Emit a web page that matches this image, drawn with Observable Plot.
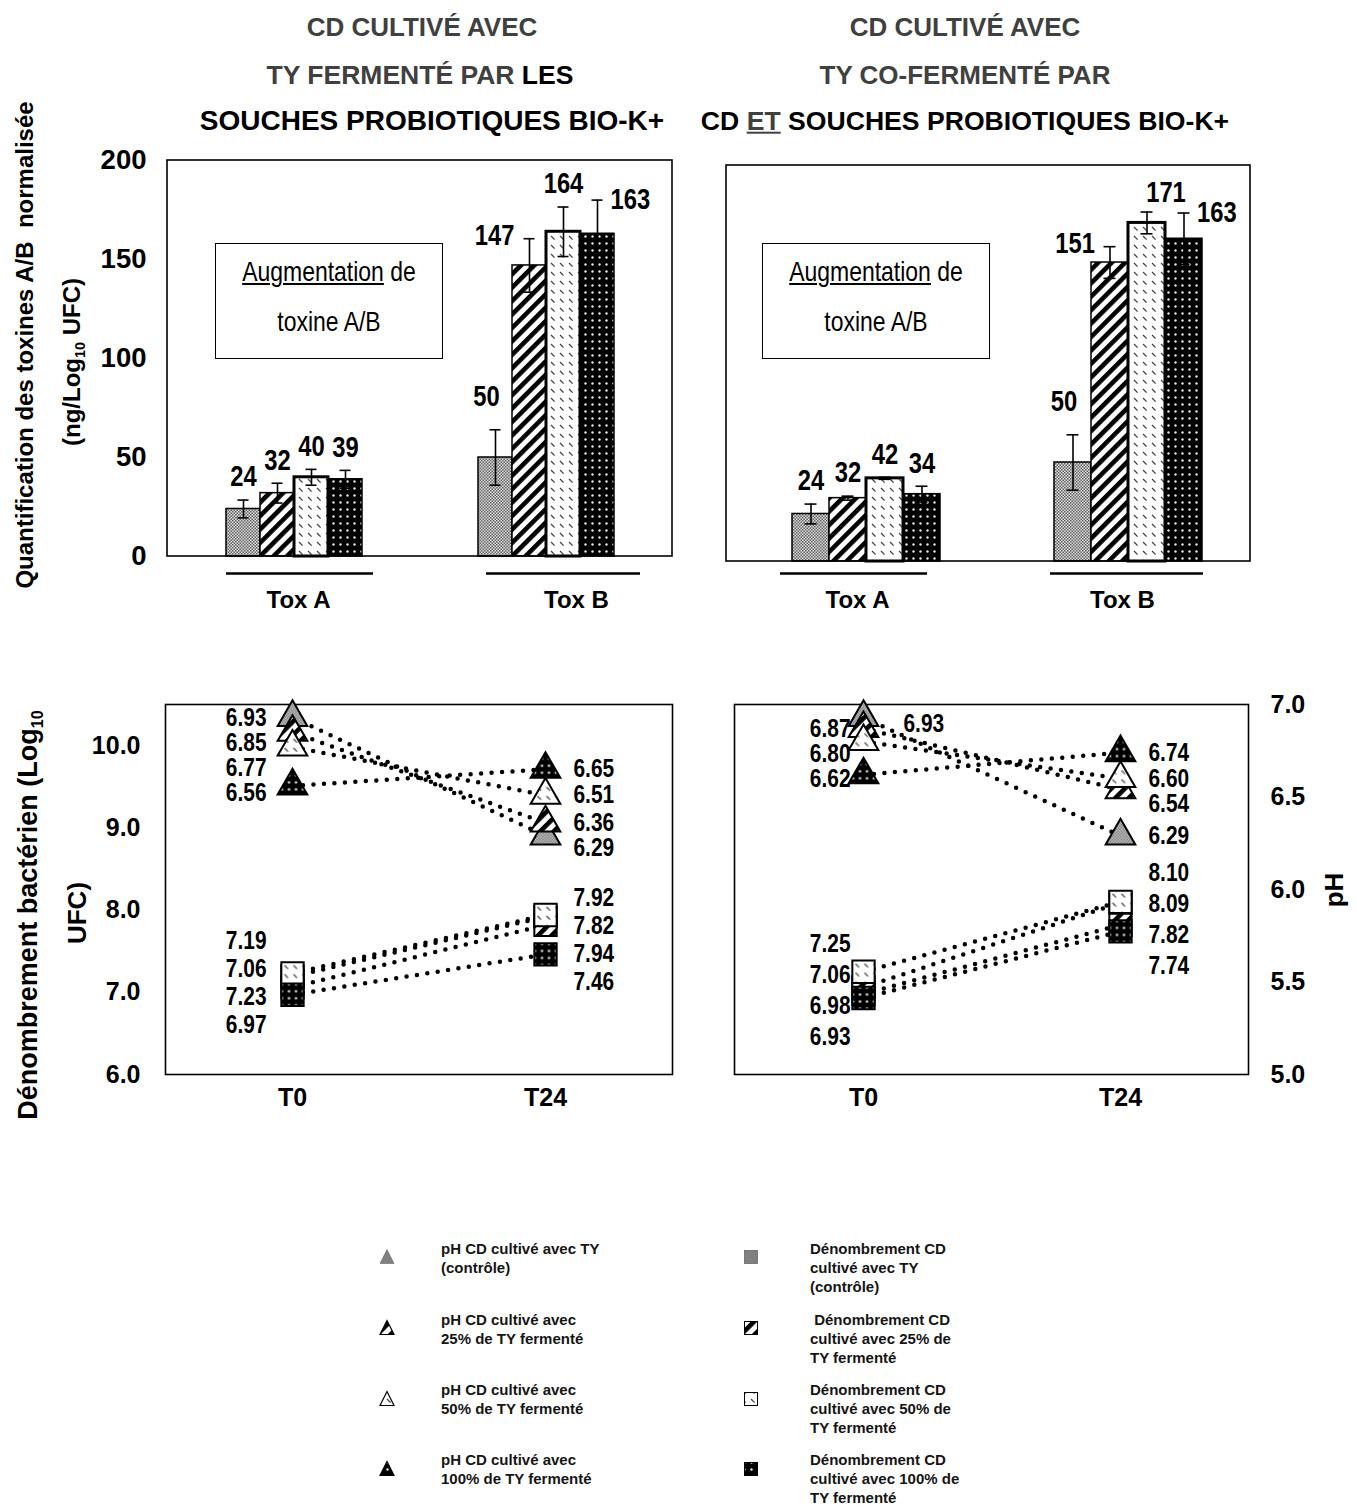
<!DOCTYPE html>
<html lang="fr">
<head>
<meta charset="utf-8">
<script src="https://cdn.jsdelivr.net/npm/d3@7"></script>
<script src="https://cdn.jsdelivr.net/npm/@observablehq/plot@0.6"></script>
<style>
html,body{margin:0;padding:0;background:#fff;}
#root{position:relative;width:1357px;height:1507px;overflow:hidden;font-family:"Liberation Sans",Arial,Helvetica,sans-serif;color:#000;}
.t{position:absolute;white-space:nowrap;line-height:1;}
</style>
</head>
<body>
<div id="root"></div>
<script>
// ================= DATA =================
const treatments = ["TY (contrôle)", "25% de TY fermenté", "50% de TY fermenté", "100% de TY fermenté"];
const toxGroups = ["Tox A", "Tox B"];
const times = ["T0", "T24"];

// Top-left: CD cultivé avec TY fermenté par les souches probiotiques Bio-K+
const leftToxA = [24, 32, 40, 39];
const leftToxAErr = [4.5, 5, 4, 4.5];
const leftToxB = [50, 147, 164, 163];
const leftToxBErr = [14, 13.5, 12.5, 17];
// Top-right: CD cultivé avec TY co-fermenté par CD et souches Bio-K+
const rightToxA = [24, 32, 42, 34];
const rightToxAErr = [5, 1, 0.5, 4];
const rightToxB = [50, 151, 171, 163];
const rightToxBErr = [14, 8, 5.5, 13];

// Bottom: pH (triangles) and counts Log10 UFC (squares)
const leftPhT0 = [6.93, 6.85, 6.77, 6.56];
const leftPhT24 = [6.29, 6.36, 6.51, 6.65];
const leftCfuT0 = [7.19, 7.06, 7.23, 6.97];
const leftCfuT24 = [7.92, 7.82, 7.94, 7.46];
const rightPhT0 = [6.93, 6.87, 6.80, 6.62];
const rightPhT24 = [6.29, 6.54, 6.60, 6.74];
const rightCfuT0 = [7.06, 6.98, 7.25, 6.93];
const rightCfuT24 = [8.09, 7.82, 8.10, 7.74];

const toxTicks = [0, 50, 100, 150, 200];
const cfuTicks = [6, 7, 8, 9, 10];
const phTicks = [5, 5.5, 6, 6.5, 7];

// label placement (annotation layout)
const leftPlaceA = ["top", "top", "top", "top"];
const leftPlaceB = ["topleft", "left", "top", "right"];
const rightPlaceA = ["top", "top", "top", "top"];
const rightPlaceB = ["topleft", "left", "topright", "right"];
const leftCfuLabelOrder = [0, 1, 2, 3];
const rightCfuLabelOrder = [2, 0, 1, 3];
const leftPhT0Side = ["left", "left", "left", "left"];
const rightPhT0Side = ["right", "left", "left", "left"];

// ================= STYLE =================
const FILL = ["url(#pCtrl)", "url(#p25)", "url(#p50)", "url(#p100)"];
const SANS = "'Liberation Sans', Arial, Helvetica, sans-serif";
const hasNarrow = (() => {
  const c = document.createElement("canvas").getContext("2d");
  c.font = "bold 40px 'Liberation Sans Narrow', monospace";
  const a = c.measureText("Augmentation 147").width;
  c.font = "bold 40px monospace";
  const b = c.measureText("Augmentation 147").width;
  return Math.abs(a - b) > 0.5;
})();
const NARROW = hasNarrow ? "'Liberation Sans Narrow', 'Arial Narrow', sans-serif" : SANS;
const SQUEEZE = hasNarrow ? 1 : 0.82;

const root = document.getElementById("root");
root.insertAdjacentHTML("beforeend", `
<svg width="0" height="0" style="position:absolute;left:0;top:0">
<defs>
<pattern id="pCtrl" patternUnits="userSpaceOnUse" width="3" height="3">
  <rect width="3" height="3" fill="#e0e0e0"/>
  <rect width="1.5" height="1.5" fill="#5e5e5e"/>
  <rect x="1.5" y="1.5" width="1.5" height="1.5" fill="#5e5e5e"/>
</pattern>
<pattern id="p25" patternUnits="userSpaceOnUse" width="9.5" height="9.5" patternTransform="rotate(45)">
  <rect width="9.5" height="9.5" fill="#fff"/>
  <rect width="4.6" height="9.5" fill="#000"/>
</pattern>
<pattern id="p50" patternUnits="userSpaceOnUse" width="9" height="9">
  <rect width="9" height="9" fill="#fff"/>
  <path d="M1,1L4.6,4.6" stroke="#444" stroke-width="1.3"/>
</pattern>
<pattern id="p100" patternUnits="userSpaceOnUse" width="7" height="7">
  <rect width="7" height="7" fill="#000"/>
  <circle cx="3.5" cy="3.5" r="1.2" fill="#e8e8e8"/>
</pattern>
</defs>
</svg>`);

function place(svg, box) {
  svg.style.position = "absolute";
  svg.style.left = box.x + "px";
  svg.style.top = box.y + "px";
  root.appendChild(svg);
}
function margins(frame, box) {
  return {
    marginLeft: frame.x0 - box.x,
    marginTop: frame.y0 - box.y,
    marginRight: box.x + box.w - frame.x1,
    marginBottom: box.y + box.h - frame.y1
  };
}
// condense data labels when no narrow face is installed
function squeeze(svg) {
  if (SQUEEZE === 1) return;
  svg.querySelectorAll('g[aria-label="text"] text').forEach(t => {
    if (t.textContent.startsWith("Tox")) return;
    t.setAttribute("transform", (t.getAttribute("transform") || "") + ` scale(${SQUEEZE},1)`);
  });
}
function addFrame(svg, frame, box) {
  const r = document.createElementNS("http://www.w3.org/2000/svg", "rect");
  r.setAttribute("x", frame.x0 - box.x);
  r.setAttribute("y", frame.y0 - box.y);
  r.setAttribute("width", frame.x1 - frame.x0);
  r.setAttribute("height", frame.y1 - frame.y0);
  r.setAttribute("fill", "none");
  r.setAttribute("stroke", "#000");
  r.setAttribute("stroke-width", 1.6);
  svg.appendChild(r);
}
const baseStyle = (size) => ({
  background: "transparent", overflow: "visible", fontFamily: SANS,
  fontSize: size + "px", fontWeight: "bold", color: "#000"
});

// ================= TOP CHARTS (bars) =================
const placeStyles = {
  top: {dx: 0, dy: -23, anchor: "middle"},
  topleft: {dx: -9, dy: -33, anchor: "middle"},
  topright: {dx: 19, dy: -19, anchor: "middle"},
  left: {dx: -15, dy: -3, anchor: "end"},
  right: {dx: 13, dy: 0, anchor: "start"}
};

function toxChart(o) {
  const rows = [];
  toxGroups.forEach((g, gi) => {
    const vals = gi ? o.B : o.A, errs = gi ? o.BErr : o.AErr, pl = gi ? o.placeB : o.placeA;
    treatments.forEach((t, i) => rows.push({group: g, treatment: t, ti: i, value: vals[i], err: errs[i], place: pl[i]}));
  });
  const marks = [
    Plot.barY(rows, {fx: "group", x: "treatment", y: "value", fill: d => FILL[d.ti],
      stroke: "#000", strokeWidth: d => d.ti === 2 ? 3 : 1.5}),
    Plot.ruleX(rows, {fx: "group", x: "treatment", y1: d => d.value - d.err, y2: d => d.value + d.err,
      stroke: "#000", strokeWidth: 1.6}),
    Plot.tickY(rows, {fx: "group", x: "treatment", y: d => d.value + d.err, stroke: "#000", strokeWidth: 1.6,
      insetLeft: o.capInset, insetRight: o.capInset}),
    Plot.tickY(rows, {fx: "group", x: "treatment", y: d => d.value - d.err, stroke: "#000", strokeWidth: 1.6,
      insetLeft: o.capInset, insetRight: o.capInset})
  ];
  for (const [key, p] of Object.entries(placeStyles)) {
    marks.push(Plot.text(rows.filter(d => d.place === key), {
      fx: "group", x: "treatment", y: d => d.value + d.err, text: d => String(d.value),
      textAnchor: p.anchor, lineAnchor: "middle", dx: p.dx, dy: p.dy,
      fontSize: 29, fontFamily: NARROW, fontWeight: "bold", fill: "#000"
    }));
  }
  toxGroups.forEach((g, gi) => {
    marks.push(Plot.ruleY([{group: g, y: 0}], {fx: "group", y: "y", dy: o.underlineDy,
      insetLeft: o.underline[gi][0], insetRight: o.underline[gi][1], stroke: "#000", strokeWidth: 2.5}));
    marks.push(Plot.text([{group: g}], {fx: "group", text: "group", frameAnchor: "bottom", lineAnchor: "middle",
      dy: o.groupDy, dx: o.groupDx[gi], fontSize: 24, fontWeight: "bold", fontFamily: SANS, fill: "#000"}));
  });
  const svg = Plot.plot({
    width: o.box.w, height: o.box.h, ...margins(o.frame, o.box),
    fx: {domain: toxGroups, padding: 0, axis: null, label: null},
    x: {domain: treatments, paddingInner: 0, paddingOuter: o.padOuter, align: o.align, axis: null, label: null},
    y: o.yAxis ? {domain: [0, 200], ticks: toxTicks, tickSize: 0, tickPadding: 22, label: null}
               : {domain: [0, 200], axis: null},
    color: {type: "identity"},
    style: baseStyle(27.5),
    marks
  });
  squeeze(svg);
  addFrame(svg, o.frame, o.box);
  place(svg, o.box);
}

toxChart({
  A: leftToxA, AErr: leftToxAErr, B: leftToxB, BErr: leftToxBErr, placeA: leftPlaceA, placeB: leftPlaceB,
  frame: {x0: 167, y0: 160, x1: 672, y1: 556}, box: {x: 0, y: 100, w: 700, h: 560},
  yAxis: true, padOuter: 1.61, align: 0.5, capInset: 11.5,
  underline: [[58, 47], [66, 32]], underlineDy: 17, groupDx: [4, 30], groupDy: 44
});
toxChart({
  A: rightToxA, AErr: rightToxAErr, B: rightToxB, BErr: rightToxBErr, placeA: rightPlaceA, placeB: rightPlaceB,
  frame: {x0: 726, y0: 165, x1: 1250, y1: 561}, box: {x: 700, y: 100, w: 657, h: 560},
  yAxis: false, padOuter: 1.52, align: 0.58, capInset: 12.5,
  underline: [[54, 61], [62, 47]], underlineDy: 12, groupDx: [0, 3], groupDy: 39
});

// ================= BOTTOM CHARTS (pH + counts) =================
const phToCfu = d3.scaleLinear([5, 7], [6, 10.5]);

function growthChart(o) {
  const pxPerUnit = (o.frame.y1 - o.frame.y0) / 4.5;
  const pts = [];
  treatments.forEach((t, i) => {
    pts.push({kind: "ph", ti: i, time: "T0", v: o.phT0[i], y: phToCfu(o.phT0[i])});
    pts.push({kind: "ph", ti: i, time: "T24", v: o.phT24[i], y: phToCfu(o.phT24[i])});
  });
  treatments.forEach((t, i) => {
    pts.push({kind: "cfu", ti: i, time: "T0", v: o.cfuT0[i], y: o.cfuT0[i]});
    pts.push({kind: "cfu", ti: i, time: "T24", v: o.cfuT24[i], y: o.cfuT24[i]});
  });
  const ph = pts.filter(d => d.kind === "ph"), cfu = pts.filter(d => d.kind === "cfu");

  // value labels
  const labels = [];
  const gap = 25 / pxPerUnit;
  function dodge(items) {
    items.sort((a, b) => b.y - a.y);
    items.forEach((d, k) => { d.ly = d.y; if (k && items[k - 1].ly - d.ly < gap) d.ly = items[k - 1].ly - gap; });
    return items;
  }
  for (const time of times) {
    const phPts = ph.filter(d => d.time === time);
    const side = time === "T0" ? (i => o.phT0Side[i]) : (() => "right");
    const defaultSide = time === "T0" ? "left" : "right";
    dodge(phPts.filter(d => side(d.ti) === defaultSide).map(d => ({...d}))).forEach(d =>
      labels.push({time, ly: d.ly, text: d.v.toFixed(2), kind: defaultSide}));
    if (time === "T0") phPts.filter(d => side(d.ti) !== "left").forEach(d =>
      labels.push({time, ly: d.y, text: d.v.toFixed(2), kind: "farRight"}));
    const cPts = cfu.filter(d => d.time === time);
    const mean = d3.mean(cPts, d => d.y) - (o.cfuShift[time] || 0) / pxPerUnit;
    const sp = o.cfuSpacing / pxPerUnit;
    o.cfuOrder.forEach((ti, k) => {
      const d = cPts.find(p => p.ti === ti);
      labels.push({time, ly: mean + (1.5 - k) * sp, text: d.v.toFixed(2), kind: time === "T0" ? "left" : "right"});
    });
  }
  const textOpts = {x: "time", y: "ly", text: "text", lineAnchor: "middle", fontSize: 25.5,
    fontFamily: NARROW, fontWeight: "bold", fill: "#000"};

  const yOpts = o.axis === "left"
    ? {domain: [6, 10.5], ticks: cfuTicks, tickFormat: d3.format(".1f"), tickSize: 0, tickPadding: 25, label: null}
    : {domain: [6, 10.5], axis: "right", ticks: phTicks.map(phToCfu), tickFormat: d => phToCfu.invert(d).toFixed(1),
       tickSize: 0, tickPadding: 22, label: null};

  const svg = Plot.plot({
    width: o.box.w, height: o.box.h, ...margins(o.frame, o.box),
    x: {domain: times, type: "point", padding: 0.5, tickSize: 0, tickPadding: 14, label: null},
    y: yOpts,
    color: {type: "identity"},
    style: baseStyle(25),
    marks: [
      Plot.frame({stroke: "#000", strokeWidth: 1.6}),
      Plot.line(pts, {x: "time", y: "y", z: d => d.kind + d.ti, stroke: "#000", strokeWidth: 4.5,
        strokeDasharray: "0 10.5", strokeLinecap: "round"}),
      Plot.dot(ph, {x: "time", y: "y", symbol: "triangle", r: 11, fill: d => FILL[d.ti], stroke: "#000", strokeWidth: 2}),
      Plot.dot(cfu, {x: "time", y: "y", symbol: "square", r: 12.6, fill: d => FILL[d.ti], stroke: "#000", strokeWidth: 2}),
      Plot.text(labels.filter(d => d.kind === "left"), {...textOpts, textAnchor: "end", dx: o.dxT0}),
      Plot.text(labels.filter(d => d.kind === "right"), {...textOpts, textAnchor: "start", dx: o.dxT24}),
      Plot.text(labels.filter(d => d.kind === "farRight"), {...textOpts, textAnchor: "start", dx: 40, dy: 6})
    ]
  });
  squeeze(svg);
  place(svg, o.box);
}

growthChart({
  phT0: leftPhT0, phT24: leftPhT24, cfuT0: leftCfuT0, cfuT24: leftCfuT24,
  cfuOrder: leftCfuLabelOrder, phT0Side: leftPhT0Side, cfuSpacing: 28, cfuShift: {T0: 0, T24: 12},
  frame: {x0: 165, y0: 704, x1: 672, y1: 1074}, box: {x: 0, y: 660, w: 700, h: 480},
  axis: "left", dxT0: -26, dxT24: 28
});
growthChart({
  phT0: rightPhT0, phT24: rightPhT24, cfuT0: rightCfuT0, cfuT24: rightCfuT24,
  cfuOrder: rightCfuLabelOrder, phT0Side: rightPhT0Side, cfuSpacing: 31, cfuShift: {T0: 3, T24: 4},
  frame: {x0: 734, y0: 704, x1: 1248, y1: 1074}, box: {x: 700, y: 660, w: 657, h: 480},
  axis: "right", dxT0: -13, dxT24: 28
});

// ================= HTML TEXT =================
function addText(html, o) {
  const d = document.createElement("div");
  d.className = "t";
  d.innerHTML = html;
  d.style.left = o.cx + "px";
  d.style.top = o.cy + "px";
  d.style.fontSize = o.size + "px";
  d.style.fontWeight = o.weight || "bold";
  d.style.fontFamily = o.family || SANS;
  d.style.color = o.color || "#000";
  d.style.transform = `translate(-50%,-50%)${o.rotate ? ` rotate(${o.rotate}deg)` : ""}${o.sx ? ` scaleX(${o.sx})` : ""}`;
  root.appendChild(d);
  return d;
}
const GRAY = "#404040";
// titles
addText("CD CULTIVÉ AVEC", {cx: 422, cy: 27, size: 26, color: GRAY});
addText(`TY FERMENTÉ PAR <span style="color:#000">LES</span>`, {cx: 420, cy: 75, size: 26.5, color: GRAY});
addText("SOUCHES PROBIOTIQUES BIO-K+", {cx: 432, cy: 121, size: 28});
addText("CD CULTIVÉ AVEC", {cx: 965, cy: 27, size: 26, color: GRAY});
addText("TY CO-FERMENTÉ PAR", {cx: 965, cy: 75, size: 26, color: GRAY});
addText(`CD <span style="color:${GRAY};text-decoration:underline">ET</span> SOUCHES PROBIOTIQUES BIO-K+`, {cx: 965, cy: 121, size: 26.6});

// axis titles
const sub = s => `<span style="font-size:60%;position:relative;top:0.35em">${s}</span>`;
addText("Quantification des toxines A/B&nbsp; normalisée", {cx: 25, cy: 345, size: 24, rotate: -90});
addText(`(ng/Log${sub("10")} UFC)`, {cx: 72, cy: 362, size: 24, rotate: -90});
addText(`Dénombrement bactérien (Log${sub("10")}`, {cx: 28, cy: 915, size: 27, rotate: -90});
addText("UFC)", {cx: 77, cy: 913, size: 26, rotate: -90});
addText("pH", {cx: 1334, cy: 890, size: 26, rotate: -90});

// "Augmentation de toxine A/B" boxes
for (const bx of [{x0: 215, x1: 443}, {x0: 762, x1: 990}]) {
  const b = document.createElement("div");
  Object.assign(b.style, {position: "absolute", left: bx.x0 + "px", top: "243px", width: (bx.x1 - bx.x0) + "px",
    height: "116px", boxSizing: "border-box", border: "1.6px solid #000"});
  root.appendChild(b);
  const cx = (bx.x0 + bx.x1) / 2;
  addText(`<span style="text-decoration:underline">Augmentation</span> de`, {cx, cy: 272, size: 28, weight: "normal", family: NARROW, sx: SQUEEZE});
  addText("toxine A/B", {cx, cy: 322, size: 28, weight: "normal", family: NARROW, sx: SQUEEZE});
}

// ================= LEGEND =================
const legendPh = [["pH CD cultivé avec TY", "(contrôle)"], ["pH CD cultivé avec", "25% de TY fermenté"],
  ["pH CD cultivé avec", "50% de TY fermenté"], ["pH CD cultivé avec", "100% de TY fermenté"]];
const legendCfu = [["Dénombrement CD", "cultivé avec TY", "(contrôle)"], ["\u00a0Dénombrement CD", "cultivé avec 25% de", "TY fermenté"],
  ["Dénombrement CD", "cultivé avec 50% de", "TY fermenté"], ["Dénombrement CD", "cultivé avec 100% de", "TY fermenté"]];
const rowTop = [1249, 1320, 1390, 1460];
const markerY = [1257, 1328, 1399, 1469];
function legendMarker(kind, i, cx, cy) {
  const s = document.createElementNS("http://www.w3.org/2000/svg", "svg");
  s.setAttribute("width", 20); s.setAttribute("height", 20);
  Object.assign(s.style, {position: "absolute", left: (cx - 10) + "px", top: (cy - 10) + "px", overflow: "visible"});
  const fill = i === 0 ? "#808080" : FILL[i];
  const stroke = i === 0 ? "#666" : "#000";
  s.innerHTML = kind === "tri"
    ? `<path d="M10,2.5L17,16.5L3,16.5Z" fill="${fill}" stroke="${stroke}" stroke-width="${i === 0 ? 0.6 : 1.2}"/>`
    : `<rect x="3.5" y="3.5" width="13" height="13" fill="${fill}" stroke="${stroke}" stroke-width="${i === 0 ? 0.8 : 1}"/>`;
  root.appendChild(s);
}
function legendText(lines, x, top) {
  lines.forEach((ln, k) => {
    const d = document.createElement("div");
    d.className = "t";
    d.textContent = ln;
    Object.assign(d.style, {left: x + "px", top: (top + k * 19 - 8) + "px", fontSize: "15px", fontWeight: "bold",
      color: "#151515"});
    root.appendChild(d);
  });
}
treatments.forEach((t, i) => {
  legendMarker("tri", i, 387, markerY[i]);
  legendText(legendPh[i], 441, rowTop[i]);
  legendMarker("sq", i, 751, markerY[i]);
  legendText(legendCfu[i], 810, rowTop[i]);
});
</script>
</body>
</html>
